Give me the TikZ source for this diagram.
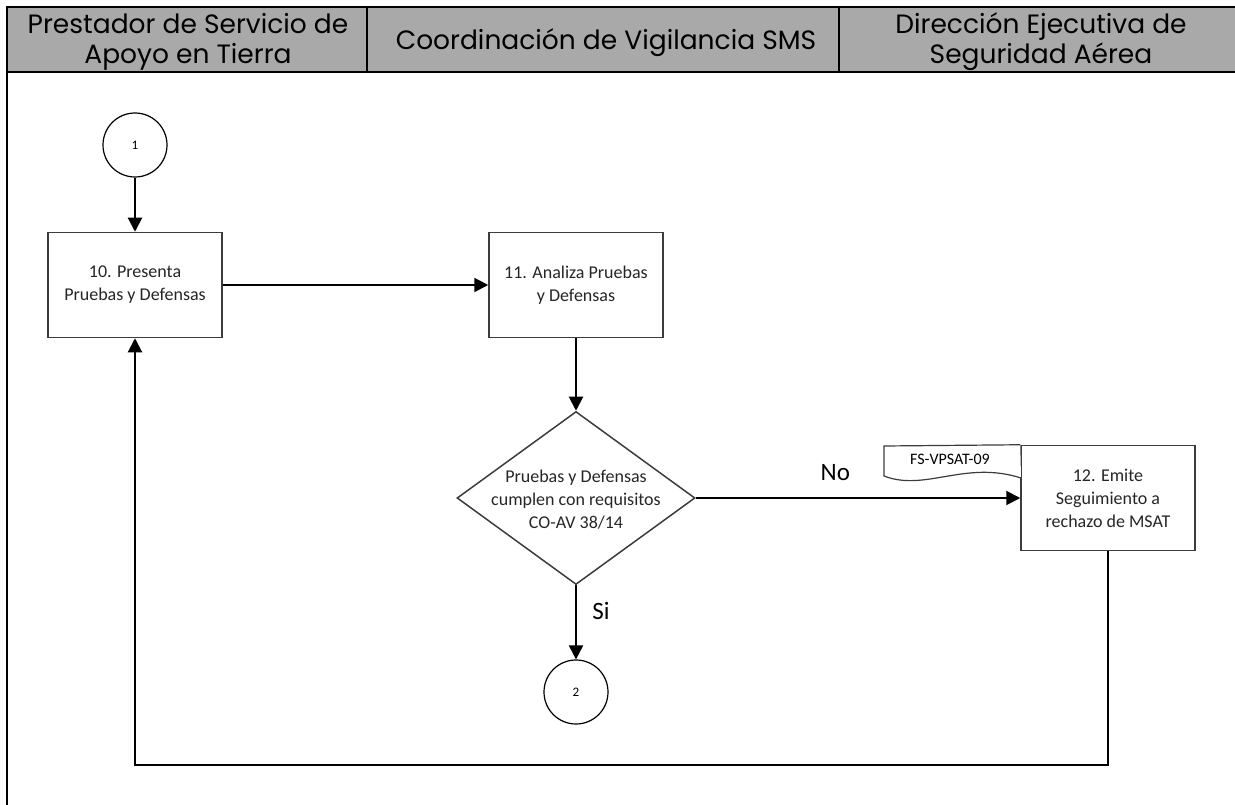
\documentclass[tikz,border=0pt]{standalone}
\usepackage{fontspec}
\setmainfont{Carlito}
\newfontfamily\headfont{Poppins}
\usetikzlibrary{positioning,shapes.geometric,arrows.meta}
\definecolor{headgray}{RGB}{169,169,169}
\definecolor{boxline}{RGB}{60,60,60}

\begin{document}
\begin{tikzpicture}[x=1pt,y=-1pt,
  proc/.style={draw=boxline,line width=1.5pt,fill=white,minimum width=174pt,
    minimum height=105pt,align=center,text=black!85,font=\fontsize{18}{23}\selectfont},
  conn/.style={draw,circle,line width=1.2pt,minimum size=64pt,inner sep=0pt,
    font=\fontsize{13}{15}\selectfont},
  decision/.style={draw=boxline,diamond,line width=1.5pt,minimum width=238pt,
    minimum height=173pt,inner sep=0pt},
  flow/.style={line width=2pt,-{Triangle[length=14pt,width=14pt]}},
  head/.style={font=\headfont\fontsize{26.5}{30}\selectfont,align=center}]
  \useasboundingbox (0,0) rectangle (1235,805);
  % encabezado de carriles
  \filldraw[fill=headgray,draw=black,line width=2.5pt] (7,7) rectangle (1250,72);
  \draw[line width=2pt] (367,7) -- (367,72) (839,7) -- (839,72);
  \draw[line width=2.5pt] (7,72) -- (7,815);
  \node[head] (lane1) at (188,42) {Prestador de Servicio de\\Apoyo en Tierra};
  \node[head] (lane2) at (606,43) {Coordinaci\'on de Vigilancia SMS};
  \node[head] (lane3) at (1041,42) {Direcci\'on Ejecutiva de\\Seguridad A\'erea};
  % pasos
  \node[conn] (c1) at (135,145) {1};
  \node[proc] (p10) at (135,285) {10. Presenta\\Pruebas y Defensas};
  \node[proc] (p11) at (576,285) {11. Analiza Pruebas\\y Defensas};
  \node[decision] (dec) at (576,498) {};
  \node[align=center,text=black!85,font=\fontsize{18}{23}\selectfont] (dectxt) at (576,500)
    {Pruebas y Defensas\\cumplen con requisitos\\CO-AV 38/14};
  \node[proc] (p12) at (1108,498) {12. Emite\\Seguimiento a\\rechazo de MSAT};
  \filldraw[draw=boxline,fill=white,line width=1.2pt]
    (p12.north west) -- (884,446) -- (884,476)
    .. controls (925,492) and (965,460) .. (1021,478);
  \node[font=\fontsize{16}{18}\selectfont] (doc) at (950,459) {FS-VPSAT-09};
  \node[conn] (c2) at (576,692) {2};
  \coordinate (bottom) at (0,765);
  % conectores
  \draw[flow] (c1) -- (p10);
  \draw[flow] (p10) -- (p11);
  \draw[flow] (p11) -- (dec);
  \draw[flow] (dec) -- node[pos=0.43,yshift=25pt,font=\fontsize{25}{28}\selectfont] {No} (p12);
  \draw[flow] (dec) -- node[pos=0.35,right=12pt,font=\fontsize{25}{28}\selectfont] {Si} (c2);
  \draw[flow] (p12) -- (p12 |- bottom) -| (p10);
\end{tikzpicture}
\end{document}
